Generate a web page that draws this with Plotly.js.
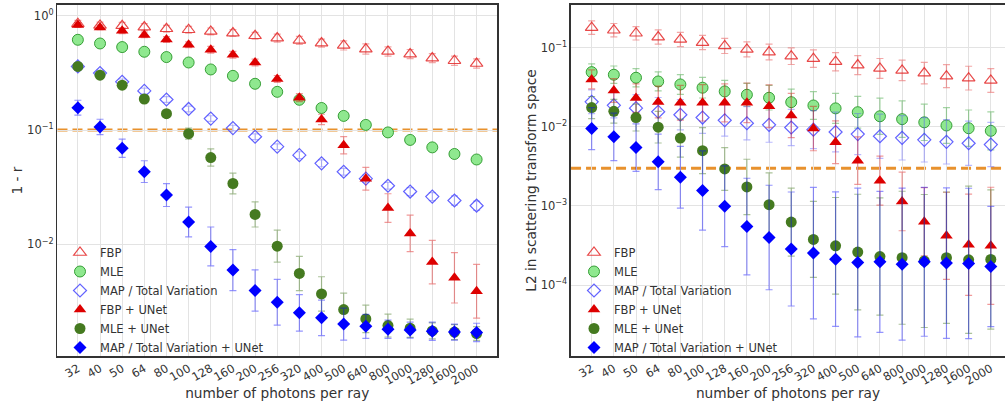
<!DOCTYPE html>
<html>
<head>
<meta charset="utf-8">
<script src="https://cdn.plot.ly/plotly-3.0.1.min.js"></script>
<style>html,body{margin:0;padding:0;background:#fff}#chart{width:1005px;height:402px}</style>
</head>
<body>
<div id="chart"></div>
<script>
// ---- categories ----
var photons = ['32','40','50','64','80','100','128','160','200','256','320','400','500','640','800','1000','1280','1600','2000'];

// ---- left panel: 1 - r ----
var fbpL   = [0.851,0.822,0.817,0.796,0.769,0.754,0.729,0.705,0.668,0.638,0.608,0.577,0.550,0.511,0.487,0.462,0.426,0.404,0.382];
var mleL   = [0.616,0.572,0.532,0.484,0.435,0.390,0.339,0.298,0.254,0.216,0.184,0.156,0.133,0.111,0.0954,0.082,0.0706,0.0618,0.0553];
var mapL   = [0.36,0.315,0.264,0.22,0.185,0.153,0.126,0.104,0.0874,0.0716,0.0603,0.0512,0.0432,0.0376,0.0326,0.029,0.0262,0.0242,0.0218];
var fbpUL  = [0.83,0.79,0.74,0.68,0.62,0.557,0.504,0.455,0.39,0.28,0.192,0.124,0.0736,0.0375,0.0208,0.01248,0.0070,0.0051,0.0039];
var mleUL  = [0.36,0.302,0.247,0.187,0.139,0.093,0.0575,0.0341,0.0183,0.00966,0.00557,0.00369,0.00269,0.00223,0.00195,0.00185,0.00175,0.00171,0.00166];
var mapUL  = [0.157,0.1066,0.0693,0.0433,0.027,0.01568,0.0096,0.00596,0.00395,0.00312,0.00252,0.00228,0.00201,0.00192,0.00181,0.00178,0.00174,0.00171,0.0017];
// error half-widths, in decades
var fbpLerr  = [0.03,0.03,0.03,0.03,0.03,0.03,0.03,0.03,0.03,0.035,0.035,0.035,0.04,0.045,0.04,0.04,0.04,0.04,0.04];
var mleLerr  = [0.025,0.025,0.025,0.025,0.025,0.025,0.025,0.025,0.025,0.025,0.025,0.025,0.03,0.03,0.03,0.03,0.03,0.03,0.03];
var mapLerr  = [0.025,0.025,0.025,0.025,0.025,0.025,0.025,0.025,0.025,0.025,0.03,0.03,0.03,0.03,0.03,0.035,0.035,0.04,0.04];
var fbpULerr = [0.02,0.02,0.025,0.025,0.025,0.025,0.03,0.03,0.03,0.03,0.035,0.045,0.075,0.1,0.125,0.16,0.19,0.22,0.235];
var mleULerr = [0.02,0.02,0.02,0.025,0.03,0.048,0.075,0.09,0.11,0.14,0.15,0.15,0.145,0.12,0.1,0.08,0.07,0.065,0.06];
var mapULerr = [0.065,0.067,0.08,0.095,0.1,0.13,0.17,0.18,0.18,0.2,0.16,0.155,0.14,0.105,0.08,0.07,0.08,0.07,0.08];

// ---- right panel: L2 in scattering transform space ----
var fbpR   = [0.179,0.166,0.152,0.136,0.127,0.116,0.105,0.095,0.088,0.078,0.0726,0.0665,0.0602,0.0547,0.0516,0.0477,0.0437,0.0412,0.0385];
var mleR   = [0.0491,0.0455,0.0417,0.0374,0.0343,0.0312,0.028,0.0254,0.0233,0.0205,0.0186,0.0171,0.0153,0.0136,0.0125,0.0114,0.0104,0.0096,0.0089];
var mapR   = [0.0207,0.0187,0.0172,0.0155,0.0142,0.0131,0.0121,0.0111,0.0106,0.0098,0.0092,0.0086,0.0081,0.0076,0.00726,0.00685,0.00646,0.0062,0.00597];
var fbpUR  = [0.0397,0.0288,0.0231,0.0206,0.0201,0.0201,0.0201,0.0201,0.0182,0.0139,0.0095,0.0064,0.00374,0.00209,0.00114,0.000632,0.00042,0.000324,0.000314];
var mleUR  = [0.0175,0.0157,0.0131,0.0099,0.0072,0.0050,0.00294,0.00174,0.00104,0.000626,0.000378,0.000314,0.000262,0.00023,0.000222,0.000202,0.000222,0.000209,0.000211];
var mapUR  = [0.0095,0.00747,0.00547,0.00361,0.0023,0.00157,0.00099,0.00055,0.0004,0.000286,0.000254,0.000213,0.000193,0.000197,0.000184,0.000197,0.00019,0.000188,0.000172];
var fbpRerr  = [0.085,0.085,0.085,0.09,0.09,0.09,0.095,0.095,0.1,0.105,0.11,0.115,0.12,0.125,0.13,0.135,0.145,0.15,0.15];
var mleRerr  = [0.105,0.11,0.115,0.12,0.125,0.13,0.14,0.145,0.155,0.165,0.175,0.19,0.2,0.23,0.23,0.23,0.225,0.23,0.24];
var mapRerr  = [0.15,0.16,0.17,0.18,0.19,0.2,0.2,0.21,0.22,0.23,0.24,0.25,0.26,0.28,0.28,0.28,0.28,0.28,0.28];
var fbpURerr = [0.12,0.15,0.18,0.2,0.22,0.23,0.24,0.25,0.27,0.28,0.28,0.27,0.3,0.31,0.37,0.43,0.55,0.64,0.74];
var mleURerr = [0.14,0.15,0.17,0.2,0.24,0.29,0.27,0.35,0.4,0.43,0.48,0.61,0.73,0.74,0.84,0.84,0.83,0.93,0.88];
var mapURerr = [0.265,0.3,0.3,0.35,0.39,0.5,0.51,0.61,0.66,0.72,0.83,0.85,0.94,0.89,0.96,0.94,0.95,0.95,0.76];

// ---- thresholds ----
var thresholdLeft = 0.1;
var thresholdRight = 0.003;

// ---- tick labels ----
var yTickValsL = [1, 0.1, 0.01];
var yTickTextL = ['10<sup>0</sup>', '10<sup>\u22121</sup>', '10<sup>\u22122</sup>'];
var yTickValsR = [0.1, 0.01, 0.001, 0.0001];
var yTickTextR = ['10<sup>\u22121</sup>', '10<sup>\u22122</sup>', '10<sup>\u22123</sup>', '10<sup>\u22124</sup>'];

var names = ['FBP', 'MLE', 'MAP / Total Variation', 'FBP + UNet', 'MLE + UNet', 'MAP / Total Variation + UNet'];

var styles = [
  {symbol: 'triangle-up-open', color: 'rgba(228,40,40,0.85)', line: {color: 'rgba(228,40,40,0.85)', width: 1.2}, size: 11, err: 'rgba(228,60,60,0.45)'},
  {symbol: 'circle', color: '#8fe88f', line: {color: 'rgba(40,150,40,0.9)', width: 1}, size: 11, err: 'rgba(50,160,50,0.45)'},
  {symbol: 'diamond-open', color: 'rgba(60,60,255,0.8)', line: {color: 'rgba(60,60,255,0.8)', width: 1.2}, size: 10, err: 'rgba(80,80,255,0.4)'},
  {symbol: 'triangle-up', color: '#dd0000', line: {width: 0}, size: 11, err: 'rgba(221,0,0,0.4)'},
  {symbol: 'circle', color: '#457a20', line: {width: 0}, size: 11, err: 'rgba(69,122,32,0.45)'},
  {symbol: 'diamond', color: '#0000ff', line: {width: 0}, size: 10, err: 'rgba(0,0,255,0.42)'}
];

function errs(vals, dec) {
  var plus = [], minus = [];
  for (var i = 0; i < vals.length; i++) {
    plus.push(vals[i] * (Math.pow(10, dec[i]) - 1));
    minus.push(vals[i] * (1 - Math.pow(10, -dec[i])));
  }
  return {plus: plus, minus: minus};
}

function makeTrace(k, vals, dec, xa, ya, leg) {
  var e = errs(vals, dec);
  var s = styles[k];
  return {
    type: 'scatter', mode: 'markers', name: names[k],
    x: photons, y: vals, xaxis: xa, yaxis: ya, legend: leg,
    marker: {symbol: s.symbol, color: s.color, size: s.size, line: s.line},
    error_y: {type: 'data', symmetric: false, array: e.plus, arrayminus: e.minus,
              color: s.err, thickness: 1.2, width: 3.5},
    hoverinfo: 'x+y+name'
  };
}

var traces = [];
var left = [[fbpL, fbpLerr], [mleL, mleLerr], [mapL, mapLerr], [fbpUL, fbpULerr], [mleUL, mleULerr], [mapUL, mapULerr]];
var right = [[fbpR, fbpRerr], [mleR, mleRerr], [mapR, mapRerr], [fbpUR, fbpURerr], [mleUR, mleURerr], [mapUR, mapURerr]];
for (var k = 0; k < 6; k++) traces.push(makeTrace(k, left[k][0], left[k][1], 'x', 'y', 'legend'));
for (var k2 = 0; k2 < 6; k2++) traces.push(makeTrace(k2, right[k2][0], right[k2][1], 'x2', 'y2', 'legend2'));

var FONT = 'DejaVu Sans, Liberation Sans, sans-serif';
var TXT = '#333333';

function xaxisCfg(domain, range, anchor) {
  return {
    type: 'category', categoryorder: 'array', categoryarray: photons,
    domain: domain, range: range, anchor: anchor,
    showgrid: true, gridcolor: '#e3e3e3', gridwidth: 1,
    showline: true, mirror: true, linecolor: '#333333', linewidth: 1.6,
    ticks: '', tickangle: -30, tickfont: {family: FONT, size: 11.5, color: TXT},
    title: {text: 'number of photons per ray', font: {family: FONT, size: 13.7, color: TXT}, standoff: 1},
    zeroline: false, automargin: false
  };
}
function yaxisCfg(range, tv, tt, title, anchor, standoff) {
  return {
    type: 'log', domain: [0.1144, 0.9876], range: range, anchor: anchor,
    tickmode: 'array', tickvals: tv, ticktext: tt,
    showgrid: true, gridcolor: '#e3e3e3', gridwidth: 1,
    showline: true, mirror: true, linecolor: '#333333', linewidth: 1.6,
    ticks: '', tickfont: {family: FONT, size: 11.5, color: TXT},
    title: {text: title, font: {family: FONT, size: 13.7, color: TXT}, standoff: standoff},
    zeroline: false, automargin: false
  };
}

var legY = (402 - 238) / 402;
var layout = {
  width: 1005, height: 402, autosize: false,
  margin: {l: 0, r: 0, t: 0, b: 0},
  paper_bgcolor: '#ffffff', plot_bgcolor: '#ffffff',
  font: {family: FONT, color: TXT},
  xaxis: xaxisCfg([0.0572, 0.4945], [-0.92, 18.92], 'y'),
  yaxis: yaxisCfg([-2.976, 0.094], yTickValsL, yTickTextL, '1 - r', 'x', 1),
  xaxis2: xaxisCfg([0.5682, 1.0], [-0.93, 18.64], 'y2'),
  yaxis2: yaxisCfg([-4.895, -0.461], yTickValsR, yTickTextR, 'L2 in scattering transform space', 'x2', 1),
  shapes: [
    {type: 'line', layer: 'below', xref: 'x domain', yref: 'y', x0: 0, x1: 1, y0: thresholdLeft, y1: thresholdLeft,
     line: {color: '#e8912d', width: 3, dash: '10px,5px'}},
    {type: 'line', layer: 'below', xref: 'x2 domain', yref: 'y2', x0: 0, x1: 1, y0: thresholdRight, y1: thresholdRight,
     line: {color: '#e8912d', width: 3, dash: '10px,5px'}}
  ],
  legend: {x: 60/1005, y: legY, xanchor: 'left', yanchor: 'top', bgcolor: 'rgba(0,0,0,0)',
           font: {family: FONT, size: 11.5, color: TXT}, borderwidth: 0},
  legend2: {x: 574/1005, y: legY, xanchor: 'left', yanchor: 'top', bgcolor: 'rgba(0,0,0,0)',
           font: {family: FONT, size: 11.5, color: TXT}, borderwidth: 0},
  showlegend: true
};

Plotly.newPlot('chart', traces, layout, {displayModeBar: false, staticPlot: true});
</script>
</body>
</html>
